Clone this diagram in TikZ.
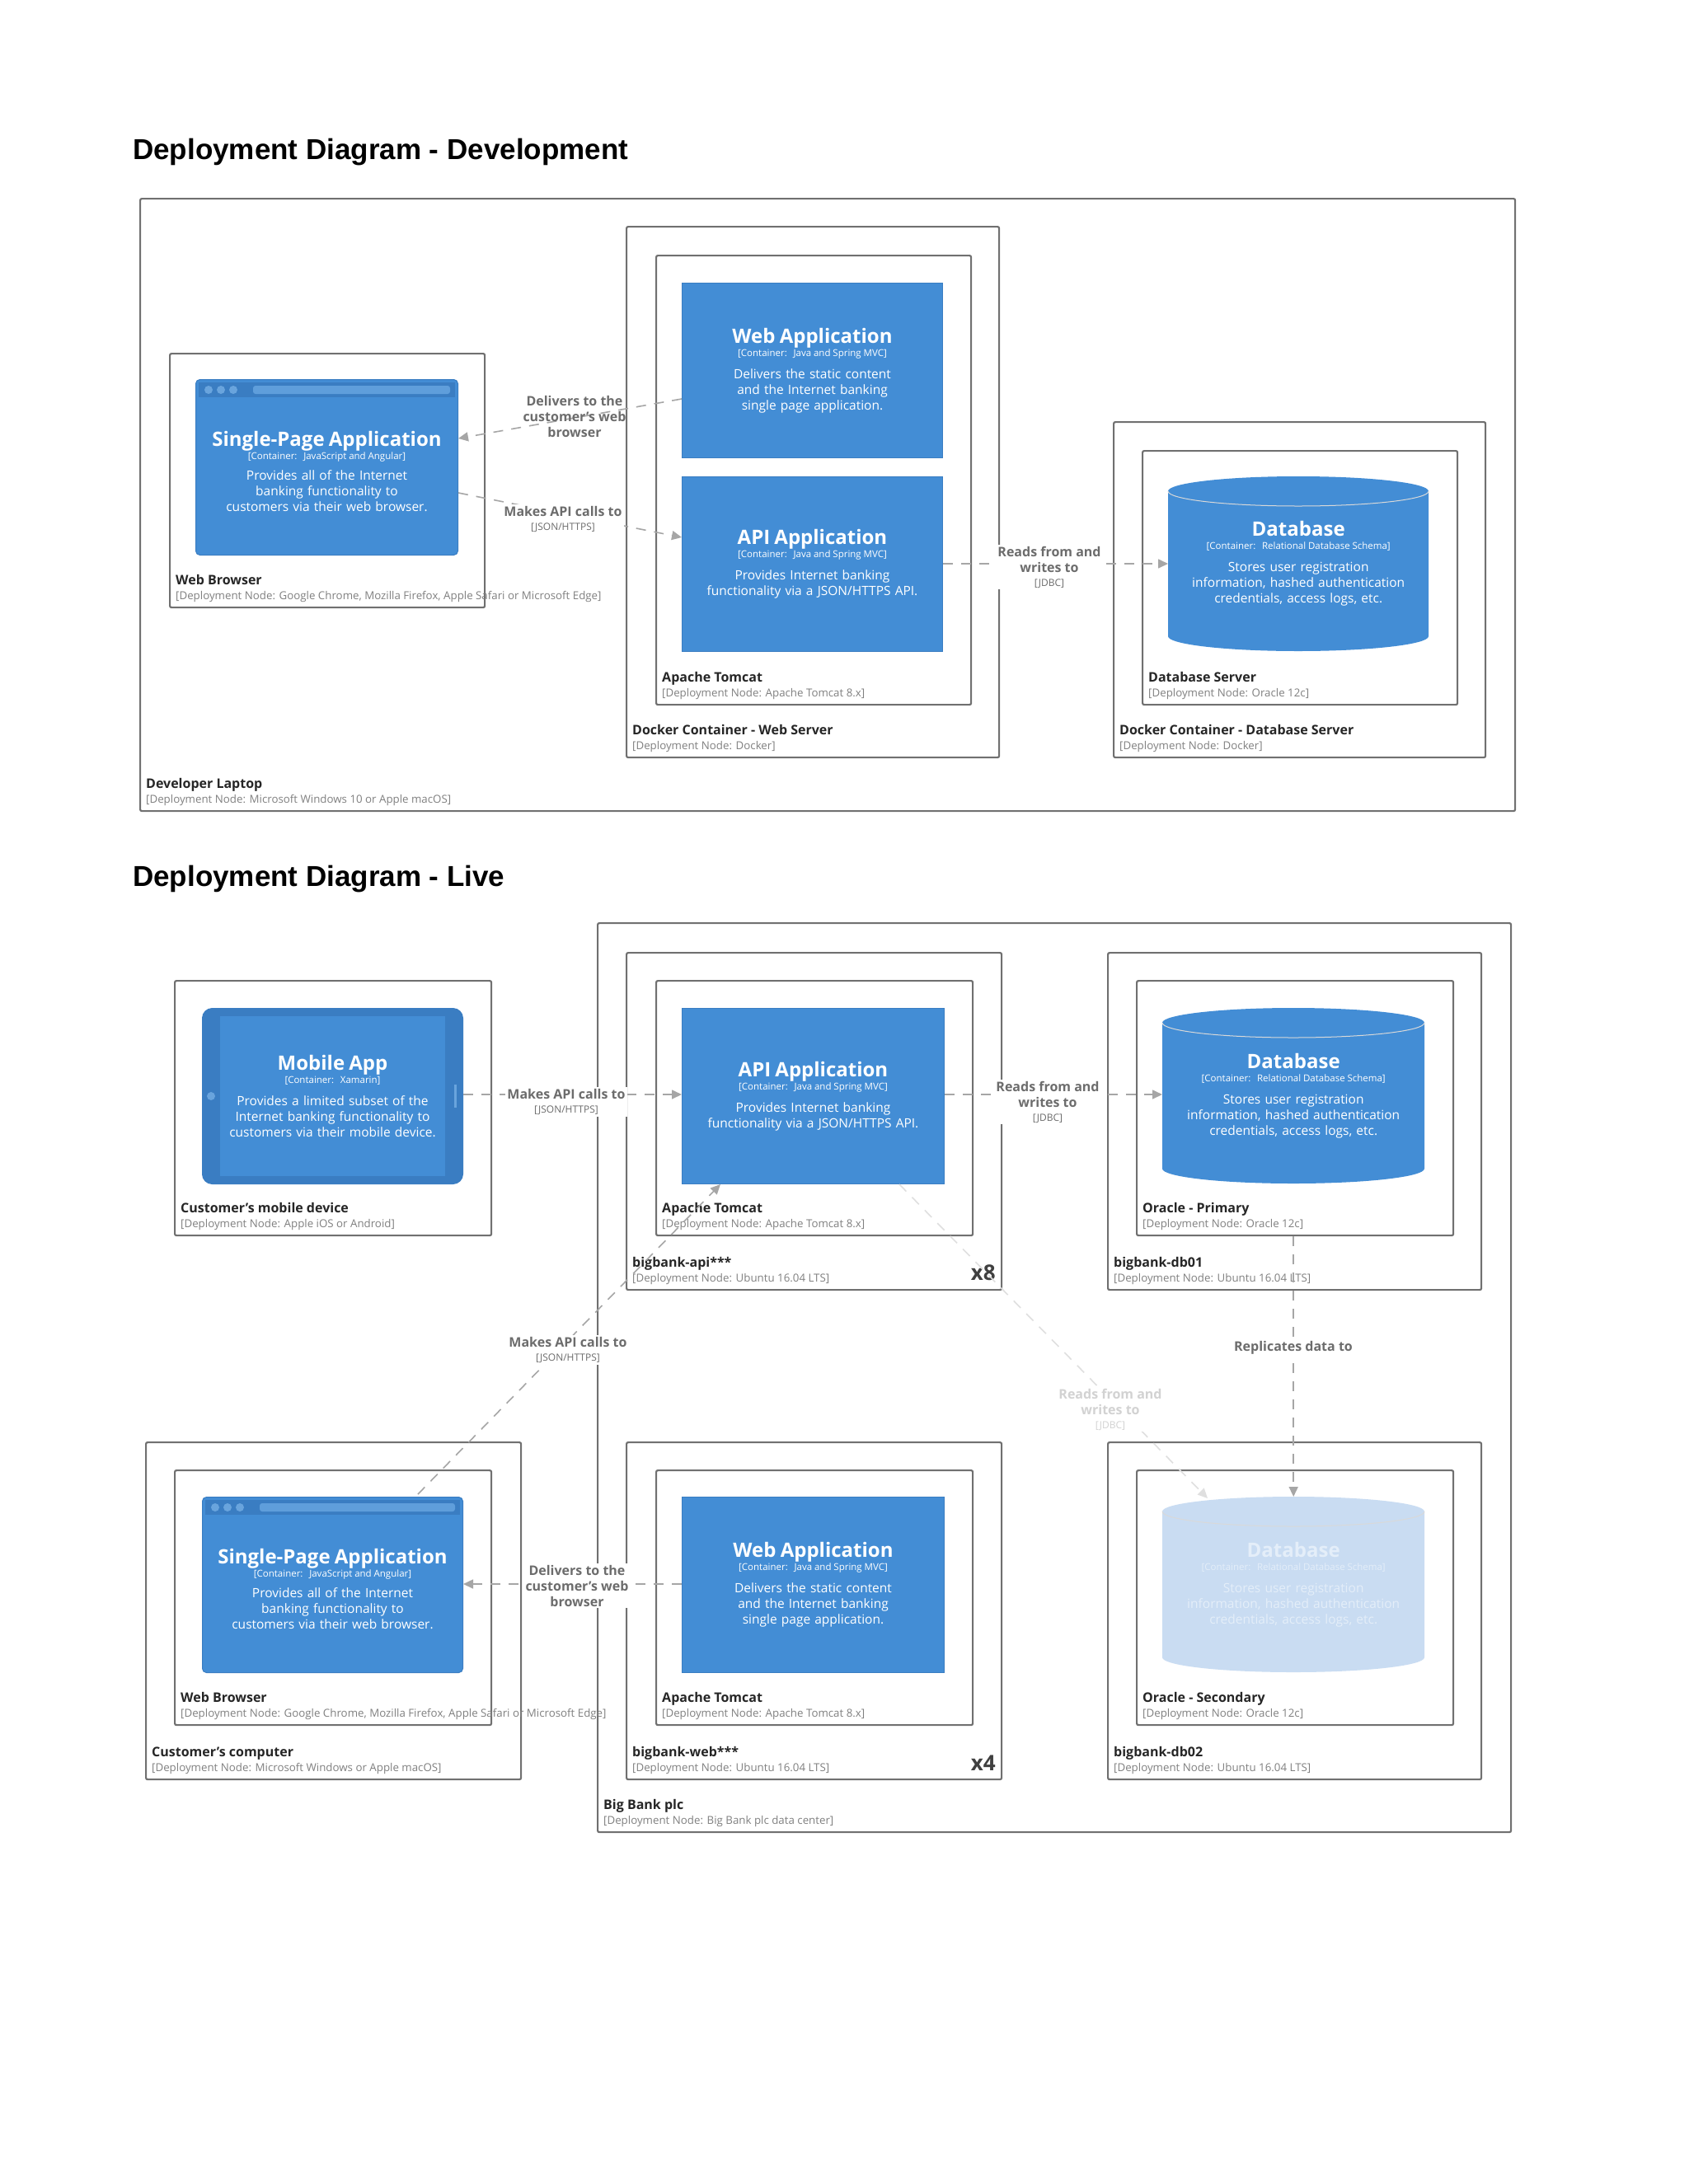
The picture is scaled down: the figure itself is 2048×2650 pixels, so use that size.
\documentclass[tikz,border=0pt]{standalone}
\usepackage{fontspec}
\setmainfont{Open Sans}
\newfontfamily\titlefont{Liberation Sans}
\usetikzlibrary{arrows.meta,calc}
\hyphenpenalty=10000
\exhyphenpenalty=10000
\definecolor{cblue}{HTML}{438DD5}
\definecolor{dblue}{HTML}{3A7DC2}
\definecolor{lblue}{HTML}{C9DCF2}
\definecolor{lbtext}{HTML}{E4EEF9}
\definecolor{edgec}{HTML}{707070}
\tikzset{
 x=1pt,y=-1pt,
 depl/.style={draw=edgec,line width=2.2pt,fill=white,rounded corners=2pt,inner sep=0pt,anchor=north west},
 cont/.style={fill=cblue,draw=dblue,line width=1pt,text=white,align=center,inner sep=0pt,anchor=north west,text width=292pt,font=\fontsize{15.5}{19}\selectfont},
 conn/.style={draw=gray!70,line width=1.6pt,dash pattern=on 12pt off 10pt,-{Triangle[length=12pt,width=11pt]}},
 lconn/.style={draw=gray!25,line width=1.6pt,dash pattern=on 12pt off 10pt,-{Triangle[length=12pt,width=11pt]}},
 clabel/.style={fill=white,inner sep=2pt,align=center,text=gray!85!black,font=\fontsize{16}{19}\selectfont\bfseries},
}
\newcommand\ctitle[1]{\mbox{\fontsize{24}{28}\selectfont\bfseries #1}}
\newcommand\csub[1]{\mbox{\fontsize{11.5}{13}\selectfont\spaceskip=0.25em\relax #1}}
\newcommand\lsub[1]{\\[-2pt]{\fontsize{12}{14}\selectfont\mdseries #1}}
% name x1 y1 x2 y2 title sub
\newcommand\depbox[7]{%
 \node[depl,minimum width={(#4-#2)*1pt},minimum height={(#5-#3)*1pt}] (#1) at (#2,#3) {};
 \node[anchor=base west,inner sep=0pt,font=\fontsize{16}{18}\selectfont\bfseries,text=black!85] at ({#2+8},{#5-27}) {#6};
 \node[anchor=base west,inner sep=0pt,font=\fontsize{13.3}{15}\selectfont,text=gray] at ({#2+8},{#5-9}) {#7};
}
\newcommand\browserbar[1]{%
 \fill[dblue] ($(#1.north west)+(4,4)$) rectangle ($(#1.north east)+(-4,22)$);
 \foreach \i in {0,1,2} \fill[cblue!80!white] ($(#1.north west)+(16+\i*15,13)$) circle (5pt);
 \fill[cblue!85!white,rounded corners=3pt] ($(#1.north west)+(70,8)$) rectangle ($(#1.north east)+(-10,18)$);
}
\newcommand\cyl[7]{% name x1 y1 x2 y2 fill content
 \fill[#6] (#2,{#3+18}) -- (#2,{#5-18}) arc[x radius={(#4-#2)/2},y radius=-18,start angle=180,end angle=360] -- (#4,{#3+18}) -- cycle;
 \fill[#6] ({(#2+#4)/2},{#3+18}) ellipse [x radius={(#4-#2)/2},y radius=18];
 \draw[black!15,line width=1pt] (#2,{#3+18}) arc[x radius={(#4-#2)/2},y radius=-18,start angle=180,end angle=360];
 \node[inner sep=0pt,minimum width={(#4-#2)*1pt},minimum height={(#5-#3)*1pt},anchor=north west,align=center,text width=306pt,font=\fontsize{15.5}{19}\selectfont] (#1) at (#2,#3) {#7};
}
\begin{document}
\begin{tikzpicture}
\useasboundingbox[fill=white] (0,0) rectangle (2048,2650);
% ---------------- Development
\node[anchor=base west,inner sep=0pt,font=\titlefont\fontsize{35}{40}\selectfont\bfseries] (t1) at (161,193) {Deployment Diagram - Development};
\depbox{laptop}{169}{240}{1837}{983}{Developer Laptop}{[Deployment Node: Microsoft Windows 10 or Apple macOS]}
\depbox{wb1}{205}{428}{587}{736}{Web Browser}{[Deployment Node: Google Chrome, Mozilla Firefox, Apple Safari or Microsoft Edge]}
\node[cont,minimum width=318pt,minimum height=213pt,rounded corners=5pt] (spa1) at (237,460) {\\[10pt]\ctitle{Single-Page Application}\\[-3pt]\csub{[Container: JavaScript and Angular]}\\[6pt]Provides all of the Internet banking functionality to customers via their web browser.};
\browserbar{spa1}
\depbox{dockweb}{759}{274}{1211}{918}{Docker Container - Web Server}{[Deployment Node: Docker]}
\depbox{tom1}{795}{309}{1177}{854}{Apache Tomcat}{[Deployment Node: Apache Tomcat 8.x]}
\node[cont,minimum width=316pt,minimum height=212pt] (web1) at (827,343) {\ctitle{Web Application}\\[-3pt]\csub{[Container: Java and Spring MVC]}\\[8pt]Delivers the static content and the Internet banking single page application.};
\node[cont,minimum width=316pt,minimum height=212pt] (api1) at (827,578) {\ctitle{API Application}\\[-3pt]\csub{[Container: Java and Spring MVC]}\\[8pt]Provides Internet banking functionality via a JSON/HTTPS API.};
\depbox{dockdb}{1350}{511}{1801}{918}{Docker Container - Database Server}{[Deployment Node: Docker]}
\depbox{dbs}{1385}{546}{1767}{854}{Database Server}{[Deployment Node: Oracle 12c]}
\cyl{db1}{1417}{578}{1733}{790}{cblue}{\color{white}\ctitle{Database}\\[-3pt]\csub{[Container: Relational Database Schema]}\\[8pt]Stores user registration information, hashed authentication credentials, access logs, etc.}
\draw[conn] (web1.west |- 0,484) -- (spa1.east |- 0,532);
\node[clabel,fill=none] at (697,505) {Delivers to the\\customer's web\\browser};
\draw[conn] (spa1.east |- 0,598) -- (api1.west |- 0,652);
\node[clabel] at (683,630) {Makes API calls to\lsub{[JSON/HTTPS]}};
\draw[conn] (api1.east |- 0,684) -- (db1.west |- 0,684);
\node[clabel] at (1273,688) {Reads from and\\writes to\lsub{[JDBC]}};
% ---------------- Live
\node[anchor=base west,inner sep=0pt,font=\titlefont\fontsize{35}{40}\selectfont\bfseries] (t2) at (161,1075) {Deployment Diagram - Live};
\depbox{bbplc}{724}{1119}{1832}{2222}{Big Bank plc}{[Deployment Node: Big Bank plc data center]}
\depbox{mob}{211}{1189}{595}{1498}{Customer's mobile device}{[Deployment Node: Apple iOS or Android]}
\node[cont,minimum width=316pt,minimum height=213pt,rounded corners=12pt,fill=dblue] (mapp) at (245,1223) {};
\fill[cblue] ($(mapp.north west)+(22,10)$) rectangle ($(mapp.south east)+(-22,-10)$);
\fill[cblue!80!white] ($(mapp.west)+(11,0)$) circle (5pt);
\fill[cblue!80!white] ($(mapp.east)+(-11,-14)$) rectangle ($(mapp.east)+(-8,14)$);
\node[cont,anchor=center,fill=none,draw=none,text width=262pt] (mtext) at (mapp) {\ctitle{Mobile App}\\[-3pt]\csub{[Container: Xamarin]}\\[8pt]Provides a limited subset of the Internet banking functionality to customers via their mobile device.};
\depbox{bapi}{759}{1155}{1214}{1564}{bigbank-api***}{[Deployment Node: Ubuntu 16.04 LTS]}
\node[anchor=base east,font=\fontsize{26}{30}\selectfont\bfseries,text=black!75,inner sep=0pt] (x8) at (1208,1553) {x8};
\depbox{tom2}{795}{1189}{1179}{1498}{Apache Tomcat}{[Deployment Node: Apache Tomcat 8.x]}
\node[cont,minimum width=318pt,minimum height=213pt] (api2) at (827,1223) {\ctitle{API Application}\\[-3pt]\csub{[Container: Java and Spring MVC]}\\[8pt]Provides Internet banking functionality via a JSON/HTTPS API.};
\depbox{db01}{1343}{1155}{1796}{1564}{bigbank-db01}{[Deployment Node: Ubuntu 16.04 LTS]}
\depbox{orap}{1378}{1189}{1762}{1498}{Oracle - Primary}{[Deployment Node: Oracle 12c]}
\cyl{db2}{1410}{1223}{1728}{1436}{cblue}{\color{white}\ctitle{Database}\\[-3pt]\csub{[Container: Relational Database Schema]}\\[8pt]Stores user registration information, hashed authentication credentials, access logs, etc.}
\depbox{ccomp}{176}{1749}{631}{2158}{Customer's computer}{[Deployment Node: Microsoft Windows or Apple macOS]}
\depbox{wb2}{211}{1783}{595}{2092}{Web Browser}{[Deployment Node: Google Chrome, Mozilla Firefox, Apple Safari or Microsoft Edge]}
\node[cont,minimum width=316pt,minimum height=213pt,rounded corners=5pt] (spa2) at (245,1816) {\\[10pt]\ctitle{Single-Page Application}\\[-3pt]\csub{[Container: JavaScript and Angular]}\\[6pt]Provides all of the Internet banking functionality to customers via their web browser.};
\browserbar{spa2}
\depbox{bweb}{759}{1749}{1214}{2158}{bigbank-web***}{[Deployment Node: Ubuntu 16.04 LTS]}
\node[anchor=base east,font=\fontsize{26}{30}\selectfont\bfseries,text=black!75,inner sep=0pt] (x4) at (1208,2148) {x4};
\depbox{tom3}{795}{1783}{1179}{2092}{Apache Tomcat}{[Deployment Node: Apache Tomcat 8.x]}
\node[cont,minimum width=318pt,minimum height=213pt] (web2) at (827,1816) {\ctitle{Web Application}\\[-3pt]\csub{[Container: Java and Spring MVC]}\\[8pt]Delivers the static content and the Internet banking single page application.};
\depbox{db02}{1343}{1749}{1796}{2158}{bigbank-db02}{[Deployment Node: Ubuntu 16.04 LTS]}
\depbox{oras}{1378}{1783}{1762}{2092}{Oracle - Secondary}{[Deployment Node: Oracle 12c]}
\cyl{db3}{1410}{1816}{1728}{2029}{lblue}{\color{lbtext}\ctitle{Database}\\[-3pt]\csub{[Container: Relational Database Schema]}\\[8pt]Stores user registration information, hashed authentication credentials, access logs, etc.}
% live connectors
\draw[conn] (mapp.east |- 0,1328) -- (api2.west |- 0,1328);
\node[clabel] at (687,1337) {Makes API calls to\lsub{[JSON/HTTPS]}};
\draw[conn] (api2.east |- 0,1328) -- (db2.west |- 0,1328);
\node[clabel] at (1271,1337) {Reads from and\\writes to\lsub{[JDBC]}};
\coordinate (s2top) at (507,1813);
\draw[conn] (s2top) -- (874,1437);
\node[clabel] at (689,1638) {Makes API calls to\lsub{[JSON/HTTPS]}};
\draw[conn] (web2.west |- 0,1922) -- (spa2.east |- 0,1922);
\node[clabel] at (700,1924) {Delivers to the\\customer's web\\browser};
\draw[conn] (orap.south -| db2.south) -- (db3.north);
\node[clabel] at (1569,1635) {Replicates data to};
\draw[lconn] (1091,1437) -- (1465,1818);
\node[clabel,text=gray!35] at (1347,1710) {Reads from and\\writes to\lsub{[JDBC]}};
\end{tikzpicture}
\end{document}
